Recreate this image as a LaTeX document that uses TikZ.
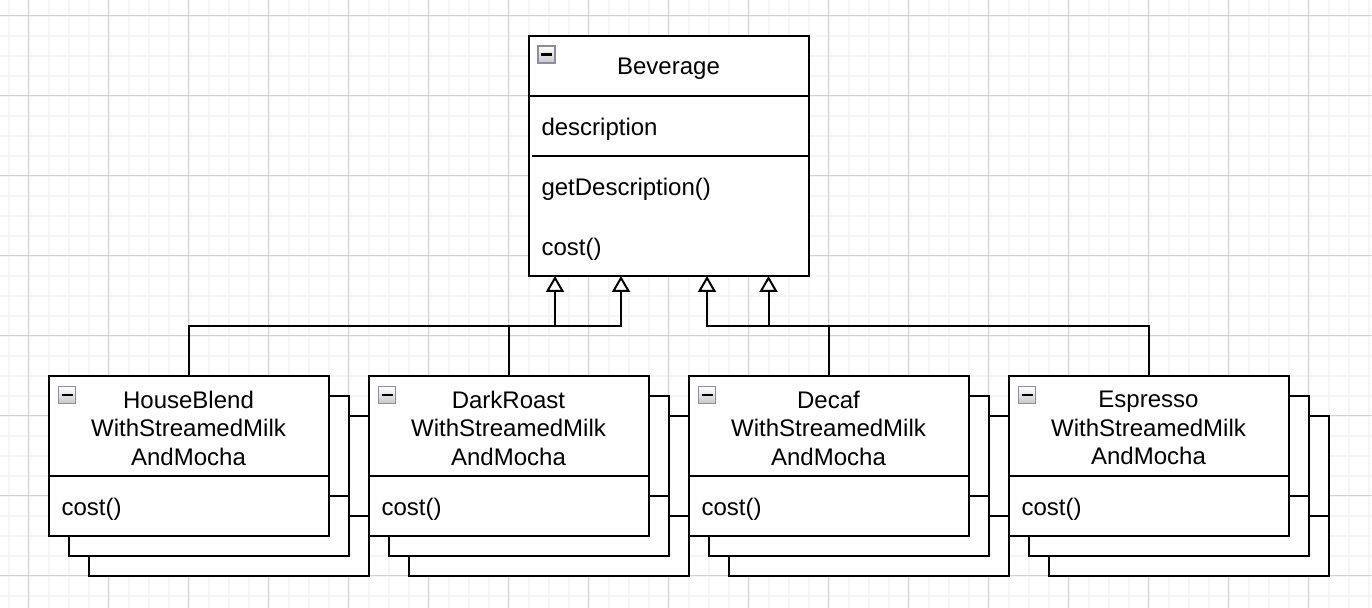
\documentclass[tikz,border=0pt]{standalone}
\usepackage{fontspec}
\setmainfont{Liberation Sans}
\usetikzlibrary{arrows.meta}
\definecolor{iconedge}{RGB}{140,140,156}

\begin{document}
\begin{tikzpicture}[x=0.5pt, y=-0.5pt, line width=1pt,
	font=\fontsize{12}{14.25}\selectfont,
	minorline/.style={black!4, line width=1pt},
	majorline/.style={black!18, line width=0.5pt},
	classbox/.style={draw, fill=white, minimum width=140pt, minimum height=80pt, inner sep=0pt},
	classicon/.style={draw=iconedge, line width=0.8pt, top color=white, bottom color=black!22, minimum size=8.5pt, inner sep=0pt},
	member/.style={anchor=west, inner sep=0pt},
	classname/.style={align=center, inner sep=0pt},
	inherit/.style={-{Triangle[width=9pt, length=8pt, fill=white]}}]
	\fill[white] (0,0) rectangle (1372,608);
	\useasboundingbox (0,0) rectangle (1372,608);
	\foreach \gx in {8.5,28.5,...,1368.5} \draw[minorline] (\gx,0) -- (\gx,608);
	\foreach \gy in {16,36,...,596} \draw[minorline] (0,\gy) -- (1372,\gy);
	\foreach \gx in {28.5,108.5,...,1308.5} \draw[majorline] (\gx,0) -- (\gx,608);
	\foreach \gy in {16,96,...,576} \draw[majorline] (0,\gy) -- (1372,\gy);
	% Beverage
	\node[classbox, minimum height=120pt] (bev) at (668.5,156) {};
	\draw ([yshift=30pt]bev.west) -- ([yshift=30pt]bev.east);
	\draw ([xshift=2.25pt]bev.west) -- (bev.east);
	\node[classicon] (bevicon) at (546.5,54.5) {\rule{5.5pt}{1.2pt}};
	\node[classname] (bevname) at (668.5,69) {Beverage};
	\node[member] (bevattr) at (540.5,129) {description};
	\node[member] (bevget) at (540.5,189) {getDescription()};
	\node[member] (bevcost) at (540.5,249) {cost()};
	% HouseBlend
	\node[classbox] (hb2) at (228.5,496) {};
	\draw ([yshift=-10pt]hb2.west) -- ([yshift=-10pt]hb2.east);
	\node[classbox] (hb1) at (208.5,476) {};
	\draw ([yshift=-10pt]hb1.west) -- ([yshift=-10pt]hb1.east);
	\node[classbox] (hb) at (188.5,456) {};
	\draw ([yshift=-10pt]hb.west) -- ([yshift=-10pt]hb.east);
	\node[classicon] (hbicon) at (67,395) {\rule{5.5pt}{1.2pt}};
	\node[classname] (hbname) at (188.5,428) {HouseBlend\\WithStreamedMilk\\AndMocha};
	\node[member] (hbcost) at (60.5,509) {cost()};
	% DarkRoast
	\node[classbox] (dr2) at (548.5,496) {};
	\draw ([yshift=-10pt]dr2.west) -- ([yshift=-10pt]dr2.east);
	\node[classbox] (dr1) at (528.5,476) {};
	\draw ([yshift=-10pt]dr1.west) -- ([yshift=-10pt]dr1.east);
	\node[classbox] (dr) at (508.5,456) {};
	\draw ([yshift=-10pt]dr.west) -- ([yshift=-10pt]dr.east);
	\node[classicon] (dricon) at (387,395) {\rule{5.5pt}{1.2pt}};
	\node[classname] (drname) at (508.5,428) {DarkRoast\\WithStreamedMilk\\AndMocha};
	\node[member] (drcost) at (380.5,509) {cost()};
	% Decaf
	\node[classbox] (dc2) at (868.5,496) {};
	\draw ([yshift=-10pt]dc2.west) -- ([yshift=-10pt]dc2.east);
	\node[classbox] (dc1) at (848.5,476) {};
	\draw ([yshift=-10pt]dc1.west) -- ([yshift=-10pt]dc1.east);
	\node[classbox] (dc) at (828.5,456) {};
	\draw ([yshift=-10pt]dc.west) -- ([yshift=-10pt]dc.east);
	\node[classicon] (dcicon) at (707,395) {\rule{5.5pt}{1.2pt}};
	\node[classname] (dcname) at (828.5,428) {Decaf\\WithStreamedMilk\\AndMocha};
	\node[member] (dccost) at (700.5,509) {cost()};
	% Espresso
	\node[classbox] (es2) at (1188.5,496) {};
	\draw ([yshift=-10pt]es2.west) -- ([yshift=-10pt]es2.east);
	\node[classbox] (es1) at (1168.5,476) {};
	\draw ([yshift=-10pt]es1.west) -- ([yshift=-10pt]es1.east);
	\node[classbox] (es) at (1148.5,456) {};
	\draw ([yshift=-10pt]es.west) -- ([yshift=-10pt]es.east);
	\node[classicon] (esicon) at (1027,395) {\rule{5.5pt}{1.2pt}};
	\node[classname] (esname) at (1148.5,428) {Espresso\\WithStreamedMilk\\AndMocha};
	\node[member] (escost) at (1020.5,509) {cost()};
	% inheritance
	\coordinate (j1) at (555,326);
	\coordinate (t1) at (555,276);
	\coordinate (j2) at (621,326);
	\coordinate (t2) at (621,276);
	\coordinate (j3) at (768.5,326);
	\coordinate (t3) at (768.5,276);
	\coordinate (j4) at (707,326);
	\coordinate (t4) at (707,276);
	\draw[inherit] (hb.north) |- (j1) -- (t1);
	\draw[inherit] (dr.north) |- (j2) -- (t2);
	\draw[inherit] (dc.north) |- (j3) -- (t3);
	\draw[inherit] (es.north) |- (j4) -- (t4);
\end{tikzpicture}
\end{document}
